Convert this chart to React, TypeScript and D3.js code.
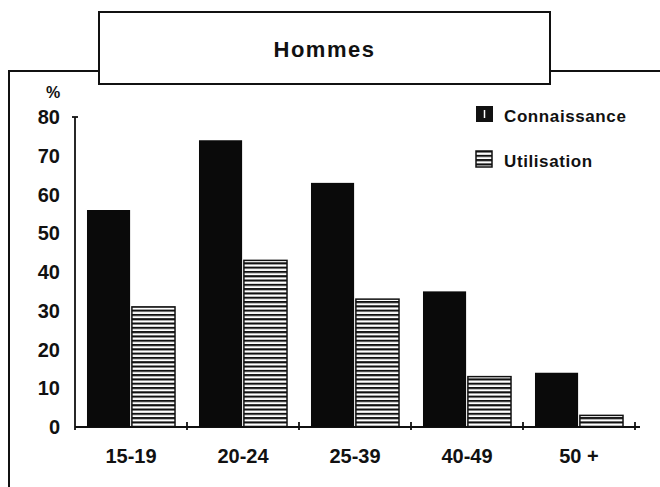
import React from "react";
import * as d3 from "d3";

const width = 660;
const height = 487;

const ageGroups = ["15-19", "20-24", "25-39", "40-49", "50 +"];
const connaissance = [56, 74, 63, 35, 14];
const utilisation = [31, 43, 33, 13, 3];
const yTicks = [0, 10, 20, 30, 40, 50, 60, 70, 80];
const seriesNames = ["Connaissance", "Utilisation"];

const font = "'Liberation Sans', Arial, sans-serif";

const x = d3
  .scaleBand<string>()
  .domain(ageGroups)
  .range([75, 635])
  .paddingInner(0.214)
  .paddingOuter(0.107);

const sub = d3
  .scaleBand<string>()
  .domain(seriesNames)
  .range([0, x.bandwidth()])
  .paddingInner(0.04);

const y = d3.scaleLinear().domain([0, 80]).range([427, 117]);

const App = () => {
  const base = y(0);
  // boundaries between groups, where the little ticks sit on the x axis
  const boundaries = ageGroups.map((g) => (x(g) as number) + x.step() - x.step() * x.paddingOuter());

  return (
    <svg
      width={width}
      height={height}
      style={{ position: "absolute", left: 0, top: 0, background: "#fff" }}
      fontFamily={font}
    >
      <defs>
        <pattern id="stripes" patternUnits="userSpaceOnUse" width={8} height={4.3}>
          <rect width={8} height={4.3} fill="#fff" />
          <rect y={0} width={8} height={2.1} fill="#111" />
        </pattern>
      </defs>

      {/* frame of the scanned page */}
      <g stroke="#111" strokeWidth={2} fill="none">
        <path d="M9,487 L9,71 L99,71" />
        <path d="M550,71 L660,71" />
        <rect x={99} y={12} width={451} height={72} />
      </g>
      <text
        x={324.5}
        y={57}
        textAnchor="middle"
        fontSize={22}
        fontWeight="bold"
        letterSpacing={1.5}
        fill="#111"
      >
        Hommes
      </text>

      {/* y axis */}
      <text x={53} y={98} textAnchor="middle" fontSize={16} fontWeight="bold" fill="#111">
        %
      </text>
      <line x1={75} x2={75} y1={y(80)} y2={y(0) + 3} stroke="#111" strokeWidth={1.8} />
      <line x1={72} x2={78} y1={y(80)} y2={y(80)} stroke="#111" strokeWidth={1.8} />
      {yTicks.map((t) => (
        <text
          key={t}
          x={60}
          y={y(t)}
          dy="0.36em"
          textAnchor="end"
          fontSize={20}
          fontWeight="bold"
          fill="#111"
        >
          {t}
        </text>
      ))}

      {/* x axis */}
      <line x1={75} x2={640} y1={base} y2={base} stroke="#111" strokeWidth={1.8} />
      {boundaries.map((b, i) => (
        <line key={i} x1={b} x2={b} y1={base - 5} y2={base + 3} stroke="#111" strokeWidth={1.8} />
      ))}
      {ageGroups.map((g) => (
        <text
          key={g}
          x={(x(g) as number) + x.bandwidth() / 2}
          y={463}
          textAnchor="middle"
          fontSize={20}
          fontWeight="bold"
          fill="#111"
        >
          {g}
        </text>
      ))}

      {/* bars */}
      {ageGroups.map((g, i) => (
        <g key={g} transform={`translate(${x(g)},0)`}>
          <rect
            x={sub("Connaissance")}
            y={y(connaissance[i])}
            width={sub.bandwidth()}
            height={base - y(connaissance[i])}
            fill="#0a0a0a"
          />
          <rect
            x={sub("Utilisation")}
            y={y(utilisation[i])}
            width={sub.bandwidth()}
            height={base - y(utilisation[i])}
            fill="url(#stripes)"
            stroke="#111"
            strokeWidth={1.5}
          />
        </g>
      ))}

      {/* legend */}
      <rect x={476} y={106} width={17} height={16} fill="#111" />
      <line x1={484.5} x2={484.5} y1={110} y2={118} stroke="#fff" strokeWidth={1.5} />
      <text x={504} y={122} fontSize={17} fontWeight="bold" letterSpacing={0.6} fill="#111">
        Connaissance
      </text>
      <rect x={476} y={151} width={16} height={16} fill="url(#stripes)" stroke="#111" strokeWidth={1.5} />
      <text x={504} y={167} fontSize={17} fontWeight="bold" letterSpacing={0.6} fill="#111">
        Utilisation
      </text>
    </svg>
  );
};

export default App;
